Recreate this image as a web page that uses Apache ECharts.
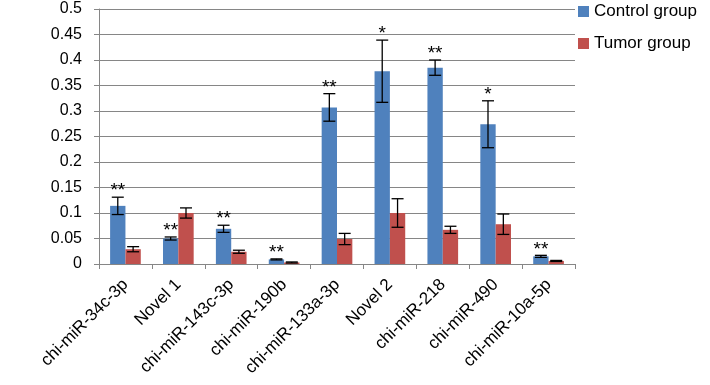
<!DOCTYPE html>
<html><head><meta charset="utf-8">
<script src="https://cdn.jsdelivr.net/npm/echarts@6/dist/echarts.min.js"></script>
<style>html,body{margin:0;padding:0;background:#fff}#c{width:710px;height:385px}</style>
</head><body><div id="c"></div>
<script>
const categories = ['chi-miR-34c-3p','Novel 1','chi-miR-143c-3p','chi-miR-190b','chi-miR-133a-3p','Novel 2','chi-miR-218','chi-miR-490','chi-miR-10a-5p'];
const control = [0.114, 0.050, 0.069, 0.009, 0.307, 0.378, 0.385, 0.274, 0.015];
const controlErr = [0.017, 0.003, 0.007, 0.001, 0.027, 0.061, 0.015, 0.046, 0.002];
const tumor = [0.029, 0.100, 0.024, 0.003, 0.049, 0.100, 0.067, 0.078, 0.006];
const tumorErr = [0.005, 0.010, 0.003, 0.001, 0.011, 0.028, 0.007, 0.020, 0.001];
const signif = ['**','**','**','**','**','*','**','*','**'];
const yTicks = ['0','0.05','0.1','0.15','0.2','0.25','0.3','0.35','0.4','0.45','0.5'];

const GAP = 0.42;
const FONT = 'Liberation Sans, Arial, sans-serif';
const chart = echarts.init(document.getElementById('c'));

function errSeries(name, vals, errs, side, marks) {
  return {
    type: 'custom', name: name + ' err', silent: true, z: 5,
    data: vals.map((v, i) => [i, v, errs[i]]),
    renderItem: function (params, api) {
      const i = api.value(0), v = api.value(1), e = api.value(2);
      const band = api.size([1, 0])[0];
      const bw = band * (1 - GAP) / 2;
      const cx = api.coord([i, v])[0] + side * bw / 2;
      const yt = api.coord([i, v + e])[1];
      const yb = api.coord([i, v - e])[1];
      const hw = 6;
      const st = {stroke: '#000', lineWidth: 1.3};
      const children = [
        {type: 'line', shape: {x1: cx, y1: yt, x2: cx, y2: yb}, style: st},
        {type: 'line', shape: {x1: cx - hw, y1: yt, x2: cx + hw, y2: yt}, style: st},
        {type: 'line', shape: {x1: cx - hw, y1: yb, x2: cx + hw, y2: yb}, style: st}
      ];
      if (marks) {
        children.push({type: 'text', style: {text: marks[i], x: cx, y: yt - 6, align: 'center', verticalAlign: 'middle', fill: '#000', font: '19px ' + FONT, letterSpacing: 1}});
      }
      return {type: 'group', children: children};
    }
  };
}

chart.setOption({
  animation: false,
  textStyle: {fontFamily: FONT},
  grid: {left: 99, top: 9, right: 135, bottom: 121, containLabel: false},
  legend: {
    orient: 'vertical', left: 578, top: 3, padding: 0, itemGap: 15,
    itemWidth: 11, itemHeight: 11, icon: 'rect',
    textStyle: {fontSize: 17, color: '#000', fontFamily: FONT},
    data: ['Control group', 'Tumor group']
  },
  xAxis: {
    type: 'category', data: categories,
    axisLine: {lineStyle: {color: '#868686'}},
    axisTick: {show: true, length: 5, lineStyle: {color: '#868686'}},
    axisLabel: {rotate: 45, fontSize: 17, color: '#000', margin: 18, interval: 0}
  },
  yAxis: {
    type: 'value', min: 0, max: 0.5, interval: 0.05,
    axisLine: {show: true, lineStyle: {color: '#868686'}},
    axisTick: {show: true, length: 5, lineStyle: {color: '#868686'}},
    splitLine: {lineStyle: {color: '#868686'}},
    axisLabel: {fontSize: 16, color: '#000', margin: 17, formatter: (v) => yTicks[Math.round(v / 0.05)]}
  },
  series: [
    {name: 'Control group', type: 'bar', data: control, barGap: '0%', barCategoryGap: (GAP * 100) + '%', itemStyle: {color: '#4F81BD'}},
    {name: 'Tumor group', type: 'bar', data: tumor, barGap: '0%', barCategoryGap: (GAP * 100) + '%', itemStyle: {color: '#C0504D'}},
    errSeries('Control group', control, controlErr, -1, signif),
    errSeries('Tumor group', tumor, tumorErr, 1, null)
  ]
});
</script></body></html>
